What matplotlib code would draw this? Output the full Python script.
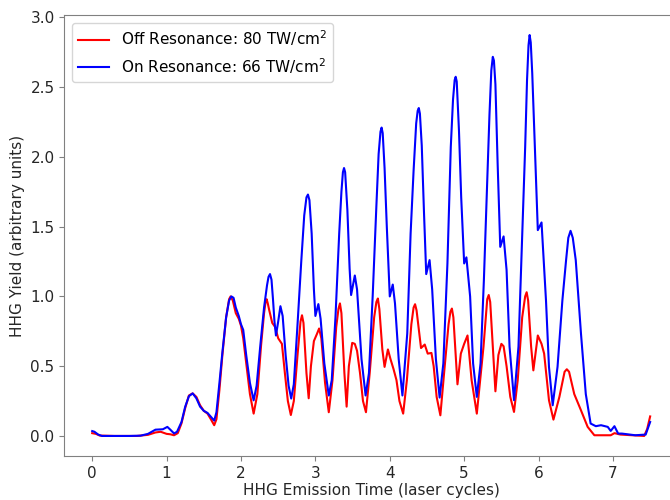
"""
HHG yield vs emission time, off/on resonance comparison.
"""

import matplotlib
matplotlib.use("Agg")

import matplotlib.pyplot as plt

# ── Data (laser cycles, arbitrary units) ──────────────────────────────────────
off_t = [0.00, 0.05, 0.10, 0.30, 0.60, 0.75, 0.85, 0.92, 1.00, 1.05,
         1.10, 1.15, 1.20, 1.25, 1.30, 1.35, 1.40, 1.45, 1.50, 1.55,
         1.60, 1.64, 1.67, 1.71, 1.75, 1.80, 1.84, 1.86, 1.89, 1.93,
         1.97, 2.00, 2.03, 2.07, 2.12, 2.17, 2.22, 2.27, 2.31, 2.33,
         2.345, 2.36, 2.38, 2.42, 2.46, 2.50, 2.55, 2.59, 2.63, 2.67,
         2.71, 2.76, 2.80, 2.82, 2.84, 2.88, 2.91, 2.94, 2.98, 3.02,
         3.05, 3.08, 3.13, 3.18, 3.23, 3.28, 3.31, 3.33, 3.35, 3.39,
         3.42, 3.45, 3.495, 3.53, 3.56, 3.60, 3.64, 3.68, 3.73, 3.79,
         3.82, 3.84, 3.86, 3.90, 3.93, 3.975, 4.01, 4.05, 4.09, 4.13,
         4.18, 4.23, 4.29, 4.32, 4.34, 4.36, 4.42, 4.47, 4.51, 4.56,
         4.59, 4.63, 4.68, 4.73, 4.79, 4.815, 4.835, 4.855, 4.91, 4.955,
         5.00, 5.045, 5.10, 5.17, 5.26, 5.31, 5.33, 5.35, 5.40, 5.42,
         5.46, 5.50, 5.53, 5.57, 5.62, 5.67, 5.72, 5.78, 5.82, 5.84,
         5.86, 5.90, 5.93, 5.99, 6.04, 6.075, 6.14, 6.20, 6.28, 6.35,
         6.38, 6.41, 6.48, 6.57, 6.66, 6.75, 6.97, 7.02, 7.10, 7.42,
         7.46, 7.50]
off_y = [0.020, 0.015, 0.003, 0.000, 0.000, 0.008, 0.025, 0.030, 0.015, 0.012,
         0.005, 0.020, 0.090, 0.200, 0.290, 0.305, 0.280, 0.220, 0.180, 0.160,
         0.115, 0.077, 0.120, 0.330, 0.580, 0.850, 0.980, 1.000, 0.970, 0.880,
         0.840, 0.790, 0.700, 0.520, 0.300, 0.160, 0.300, 0.650, 0.880, 0.960,
         0.980, 0.950, 0.900, 0.810, 0.780, 0.700, 0.660, 0.450, 0.250, 0.150,
         0.250, 0.580, 0.820, 0.865, 0.810, 0.450, 0.270, 0.500, 0.680, 0.730,
         0.770, 0.700, 0.380, 0.170, 0.400, 0.780, 0.910, 0.950, 0.880, 0.450,
         0.210, 0.500, 0.667, 0.660, 0.610, 0.450, 0.250, 0.170, 0.450, 0.850,
         0.960, 0.985, 0.910, 0.620, 0.495, 0.620, 0.550, 0.480, 0.400, 0.250,
         0.160, 0.400, 0.800, 0.920, 0.944, 0.900, 0.630, 0.655, 0.590, 0.595,
         0.500, 0.280, 0.148, 0.450, 0.800, 0.890, 0.913, 0.850, 0.370, 0.590,
         0.660, 0.720, 0.400, 0.160, 0.640, 0.980, 1.010, 0.960, 0.500, 0.320,
         0.580, 0.660, 0.643, 0.500, 0.280, 0.172, 0.400, 0.850, 1.000, 1.030,
         0.970, 0.640, 0.470, 0.720, 0.660, 0.590, 0.256, 0.117, 0.280, 0.460,
         0.478, 0.460, 0.300, 0.184, 0.065, 0.005, 0.005, 0.020, 0.010, 0.000,
         0.050, 0.140]

on_t = [0.00, 0.03, 0.08, 0.13, 0.30, 0.50, 0.65, 0.75, 0.85, 0.95,
        1.01, 1.05, 1.10, 1.14, 1.20, 1.25, 1.30, 1.35, 1.40, 1.45,
        1.50, 1.55, 1.60, 1.64, 1.67, 1.71, 1.75, 1.80, 1.84, 1.87,
        1.90, 1.93, 1.97, 2.00, 2.03, 2.07, 2.12, 2.17, 2.21, 2.26,
        2.31, 2.35, 2.37, 2.39, 2.41, 2.43, 2.45, 2.47, 2.50, 2.53,
        2.56, 2.60, 2.64, 2.675, 2.71, 2.76, 2.81, 2.85, 2.88, 2.90,
        2.92, 2.95, 2.98, 3.00, 3.04, 3.07, 3.12, 3.18, 3.22, 3.27,
        3.32, 3.35, 3.37, 3.385, 3.40, 3.43, 3.46, 3.48, 3.53, 3.56,
        3.62, 3.675, 3.72, 3.77, 3.82, 3.85, 3.875, 3.89, 3.905, 3.93,
        3.96, 4.00, 4.04, 4.07, 4.12, 4.17, 4.235, 4.28, 4.32, 4.355,
        4.375, 4.39, 4.405, 4.43, 4.46, 4.49, 4.535, 4.57, 4.62, 4.67,
        4.72, 4.775, 4.82, 4.85, 4.872, 4.886, 4.90, 4.93, 4.96, 5.00,
        5.03, 5.08, 5.12, 5.17, 5.22, 5.265, 5.31, 5.34, 5.365, 5.385,
        5.40, 5.42, 5.45, 5.485, 5.53, 5.57, 5.61, 5.67, 5.73, 5.775,
        5.82, 5.845, 5.865, 5.88, 5.895, 5.915, 5.95, 5.99, 6.04, 6.10,
        6.14, 6.19, 6.255, 6.32, 6.37, 6.40, 6.43, 6.46, 6.50, 6.57,
        6.635, 6.70, 6.77, 6.84, 6.93, 6.97, 7.02, 7.07, 7.12, 7.30,
        7.44, 7.50]
on_y = [0.035, 0.030, 0.010, 0.000, 0.000, 0.000, 0.002, 0.015, 0.045, 0.048,
        0.065, 0.045, 0.018, 0.030, 0.100, 0.210, 0.285, 0.305, 0.270, 0.210,
        0.180, 0.165, 0.135, 0.110, 0.170, 0.380, 0.600, 0.850, 0.970, 1.000,
        0.990, 0.920, 0.860, 0.800, 0.760, 0.580, 0.380, 0.255, 0.360, 0.650,
        0.920, 1.080, 1.140, 1.160, 1.120, 0.980, 0.820, 0.720, 0.820, 0.930,
        0.860, 0.580, 0.360, 0.268, 0.370, 0.800, 1.250, 1.580, 1.710, 1.730,
        1.690, 1.450, 1.050, 0.860, 0.945, 0.840, 0.520, 0.290, 0.400, 0.850,
        1.450, 1.750, 1.890, 1.920, 1.890, 1.620, 1.200, 1.010, 1.150, 1.050,
        0.550, 0.290, 0.450, 1.000, 1.650, 2.020, 2.180, 2.210, 2.170, 1.920,
        1.500, 1.000, 1.085, 0.950, 0.550, 0.290, 0.735, 1.450, 1.900, 2.240,
        2.330, 2.350, 2.310, 2.080, 1.600, 1.160, 1.260, 1.050, 0.550, 0.275,
        0.520, 1.236, 2.070, 2.410, 2.550, 2.574, 2.540, 2.190, 1.710, 1.236,
        1.280, 1.000, 0.520, 0.280, 0.520, 1.116, 1.830, 2.300, 2.620, 2.717,
        2.690, 2.520, 1.950, 1.355, 1.430, 1.190, 0.640, 0.256, 0.640, 1.355,
        2.070, 2.550, 2.800, 2.873, 2.820, 2.600, 2.070, 1.475, 1.530, 0.970,
        0.495, 0.220, 0.495, 0.970, 1.260, 1.420, 1.470, 1.420, 1.260, 0.735,
        0.300, 0.089, 0.070, 0.077, 0.065, 0.036, 0.070, 0.017, 0.017, 0.005,
        0.010, 0.100]

OFF_LABEL = "Off Resonance: 80 TW/cm$^2$"
ON_LABEL = "On Resonance: 66 TW/cm$^2$"

COLOR_SPINE = "#808080"
COLOR_TEXT = "#262626"

plt.rcParams["font.family"] = "DejaVu Sans"
plt.rcParams["font.size"] = 11

fig = plt.figure(figsize=(6.7, 5.0), dpi=100, facecolor="white")
# the reference is cropped a little on the right, so the axes run past the edge
ax = fig.add_axes([0.096, 0.088, 0.916, 0.882])

ax.plot(off_t, off_y, color="#ff0000", linewidth=1.5, label=OFF_LABEL)
ax.plot(on_t, on_y, color="#0000ff", linewidth=1.5, label=ON_LABEL)

ax.set_xticks(range(0, 8))
ax.set_yticks([0.0, 0.5, 1.0, 1.5, 2.0, 2.5, 3.0])
ax.set_xlabel("HHG Emission Time (laser cycles)", color=COLOR_TEXT, labelpad=2)
ax.set_ylabel("HHG Yield (arbitrary units)", color=COLOR_TEXT)

for s in ax.spines.values():
    s.set_color(COLOR_SPINE)
ax.tick_params(colors=COLOR_SPINE, labelcolor=COLOR_TEXT, labelsize=11)

ax.legend(loc="upper left", fontsize=11, framealpha=0.8)

fig.savefig("out.png", dpi=100)
